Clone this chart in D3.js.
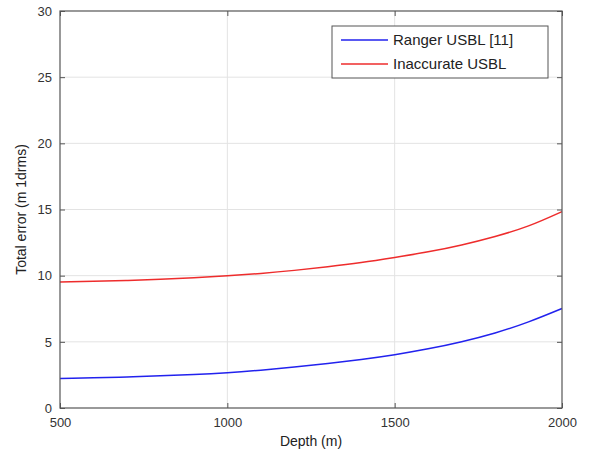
<!DOCTYPE html>
<html>
<head>
<meta charset="utf-8">
<script src="https://cdn.jsdelivr.net/npm/d3@7"></script>
<style>
  body { margin: 0; background: #fff; }
  svg { font-family: "Liberation Sans", Arial, sans-serif; }
</style>
</head>
<body>
<svg id="chart"></svg>
<script>
// depth samples (m)
var depths = [500, 600, 700, 800, 900, 1000, 1100, 1200, 1300, 1400, 1500, 1600, 1700, 1800, 1900, 2000];
// total error, m 1drms
var ranger = [2.22, 2.28, 2.35, 2.43, 2.53, 2.67, 2.86, 3.09, 3.36, 3.67, 4.03, 4.47, 5.01, 5.67, 6.51, 7.52];
var inaccurate = [9.52, 9.57, 9.64, 9.73, 9.85, 9.99, 10.17, 10.40, 10.68, 11.00, 11.38, 11.80, 12.32, 12.96, 13.76, 14.84];
var seriesNames = ["Ranger USBL [11]", "Inaccurate USBL"];
var xTicks = [500, 1000, 1500, 2000];
var yTicks = [0, 5, 10, 15, 20, 25, 30];

var W = 593, H = 458;
var margin = {top: 11, right: 31, bottom: 50, left: 60};
var width = W - margin.left - margin.right;
var height = H - margin.top - margin.bottom;

var svg = d3.select('#chart').attr('width', W).attr('height', H);
var g = svg.append('g').attr('transform', 'translate(' + margin.left + ',' + margin.top + ')');

var x = d3.scaleLinear().domain([500, 2000]).range([0, width]);
var y = d3.scaleLinear().domain([0, 30]).range([height, 0]);

// grid
g.append('g').selectAll('line').data(xTicks.slice(1, -1)).enter().append('line')
  .attr('x1', d => x(d)).attr('x2', d => x(d)).attr('y1', 0).attr('y2', height)
  .style('stroke', '#e3e3e3').style('stroke-width', 1);
g.append('g').selectAll('line').data(yTicks.slice(1, -1)).enter().append('line')
  .attr('y1', d => y(d)).attr('y2', d => y(d)).attr('x1', 0).attr('x2', width)
  .style('stroke', '#e3e3e3').style('stroke-width', 1);

var axisColor = '#555';
function styleAxis(sel) {
  sel.select('.domain').remove();
  sel.selectAll('.tick line').style('stroke', axisColor);
  sel.selectAll('.tick text').style('fill', '#333').style('font-size', '13px');
}

var xAxis = d3.axisBottom(x).tickValues(xTicks).tickSize(-5).tickPadding(10).tickFormat(d3.format('d'));
var yAxis = d3.axisLeft(y).tickValues(yTicks).tickSize(-5).tickPadding(8);

g.append('g').attr('transform', 'translate(0,' + height + ')').call(xAxis).call(styleAxis);
g.append('g').call(yAxis).call(styleAxis);
// mirrored ticks on top / right
g.append('g').call(d3.axisTop(x).tickValues(xTicks).tickSize(-5).tickFormat('')).call(styleAxis);
g.append('g').attr('transform', 'translate(' + width + ',0)')
  .call(d3.axisRight(y).tickValues(yTicks).tickSize(-5).tickFormat('')).call(styleAxis);

var line = d3.line()
  .x((d, i) => x(depths[i]))
  .y(d => y(d))
  .curve(d3.curveNatural);

var colors = ['#2222ee', '#ee2c2c'];
[ranger, inaccurate].forEach(function(s, i) {
  g.append('path').datum(s).attr('d', line)
    .style('fill', 'none').style('stroke', colors[i]).style('stroke-width', 1.5);
});

// box
g.append('rect').attr('width', width).attr('height', height)
  .style('fill', 'none').style('stroke', axisColor).style('stroke-width', 1.2);

// legend
var lg = svg.append('g').attr('transform', 'translate(332,26)');
lg.append('rect').attr('width', 216).attr('height', 52)
  .style('fill', '#fff').style('stroke', '#555').style('stroke-width', 1);
seriesNames.forEach(function(name, i) {
  var ly = 14 + i * 24;
  lg.append('line').attr('x1', 9).attr('x2', 56).attr('y1', ly).attr('y2', ly)
    .style('stroke', colors[i]).style('stroke-width', 1.5);
  lg.append('text').attr('x', 61).attr('y', ly).attr('dy', '0.35em')
    .style('font-size', '15px').style('fill', '#222').text(name);
});

// axis labels
svg.append('text').attr('x', margin.left + width / 2).attr('y', 446)
  .attr('text-anchor', 'middle').style('font-size', '14px').style('fill', '#222').text('Depth (m)');
svg.append('text').attr('transform', 'translate(26,' + (margin.top + height / 2) + ') rotate(-90)')
  .attr('text-anchor', 'middle').style('font-size', '14px').style('fill', '#222').text('Total error (m 1drms)');
</script>
</body>
</html>
